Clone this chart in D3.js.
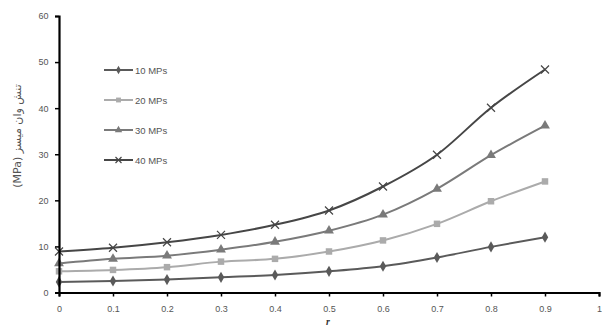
<!DOCTYPE html>
<html><head><meta charset="utf-8">
<script src="https://cdn.jsdelivr.net/npm/d3@7"></script>
<style>body{margin:0;background:#fff}svg{display:block}</style>
</head><body>
<script>
const xValues = [0, 0.1, 0.2, 0.3, 0.4, 0.5, 0.6, 0.7, 0.8, 0.9];
const s10 = [2.3, 2.5, 2.8, 3.3, 3.8, 4.6, 5.7, 7.6, 9.9, 12.0];
const s20 = [4.6, 4.9, 5.5, 6.7, 7.3, 8.9, 11.3, 14.9, 19.8, 24.1];
const s30 = [6.3, 7.3, 8.0, 9.3, 11.0, 13.4, 16.9, 22.5, 29.8, 36.2];
const s40 = [8.9, 9.7, 10.9, 12.5, 14.7, 17.8, 23.0, 29.9, 40.1, 48.4];
const seriesNames = ["10 MPs", "20 MPs", "30 MPs", "40 MPs"];
const xTicks = [0, 0.1, 0.2, 0.3, 0.4, 0.5, 0.6, 0.7, 0.8, 0.9, 1];
const yTicks = [0, 10, 20, 30, 40, 50, 60];

const W = 602, H = 331;
const svg = d3.select("body").append("svg").attr("width", W).attr("height", H);
const x = d3.scaleLinear().domain([0, 1]).range([59, 599]);
const y = d3.scaleLinear().domain([0, 60]).range([292.5, 16]);

const series = [
  {name: seriesNames[0], vals: s10, color: "#5a5a5a", sym: d3.symbolDiamond, size: 36},
  {name: seriesNames[1], vals: s20, color: "#ababab", sym: d3.symbolSquare, size: 42},
  {name: seriesNames[2], vals: s30, color: "#7a7a7a", sym: d3.symbolTriangle, size: 42},
  {name: seriesNames[3], vals: s40, color: "#464646", sym: "x", size: 4}
];

const line = d3.line().x(d => x(d[0])).y(d => y(d[1])).curve(d3.curveMonotoneX);

function marker(g, s, cx, cy, k) {
  k = k || 1;
  if (s.sym === "x") {
    const r = s.size * k;
    g.append("path").attr("d", `M${cx-r},${cy-r}L${cx+r},${cy+r}M${cx-r},${cy+r}L${cx+r},${cy-r}`)
      .attr("stroke", s.color).attr("stroke-width", 1.2).attr("fill", "none");
  } else {
    g.append("path").attr("d", d3.symbol().type(s.sym).size(s.size * k * k)())
      .attr("transform", `translate(${cx},${cy})`).attr("fill", s.color);
  }
}

series.forEach(s => {
  const pts = xValues.map((xv, i) => [xv, s.vals[i]]);
  svg.append("path").attr("d", line(pts)).attr("fill", "none")
    .attr("stroke", s.color).attr("stroke-width", 2);
  const g = svg.append("g");
  pts.forEach(p => marker(g, s, x(p[0]), y(p[1])));
});

// axes
const xAxis = svg.append("g").attr("transform", `translate(0,${y(0)})`)
  .call(d3.axisBottom(x).tickValues(xTicks).tickSize(4).tickFormat(d => d3.format("")(d)));
const yAxis = svg.append("g").attr("transform", `translate(${x(0)},0)`)
  .call(d3.axisLeft(y).tickValues(yTicks).tickSize(4));
[xAxis, yAxis].forEach(a => {
  a.select(".domain").attr("stroke", "#000").attr("stroke-width", 2.2);
  a.selectAll(".tick line").attr("stroke", "#000").attr("stroke-width", 1.5);
  a.selectAll(".tick text").attr("fill", "#555").attr("font-family", "Liberation Sans, Arial, sans-serif").attr("font-size", 9);
});
xAxis.selectAll(".tick text").attr("dy", "1.4em");
yAxis.selectAll(".tick text").attr("dx", "-0.4em");

// legend
const lg = svg.append("g");
series.forEach((s, i) => {
  const ly = 70 + i * 30;
  lg.append("line").attr("x1", 104).attr("x2", 133).attr("y1", ly).attr("y2", ly)
    .attr("stroke", s.color).attr("stroke-width", 2);
  marker(lg, s, 118.5, ly, 0.75);
  lg.append("text").attr("x", 135).attr("y", ly + 3.5).text(s.name)
    .attr("font-family", "Liberation Sans, Arial, sans-serif").attr("font-size", 9.5).attr("fill", "#555");
});

// axis titles
svg.append("text").attr("transform", "translate(21,136) rotate(-90)")
  .attr("text-anchor", "middle").attr("font-family", "DejaVu Sans, sans-serif")
  .attr("font-size", 11).attr("fill", "#555").text("(MPa) تنش وان میسز");
svg.append("text").attr("x", 328).attr("y", 325).attr("text-anchor", "middle")
  .attr("font-family", "Liberation Serif, serif").attr("font-style", "italic").attr("font-weight", "bold")
  .attr("font-size", 10).attr("fill", "#333").text("r");
</script>
</body></html>
